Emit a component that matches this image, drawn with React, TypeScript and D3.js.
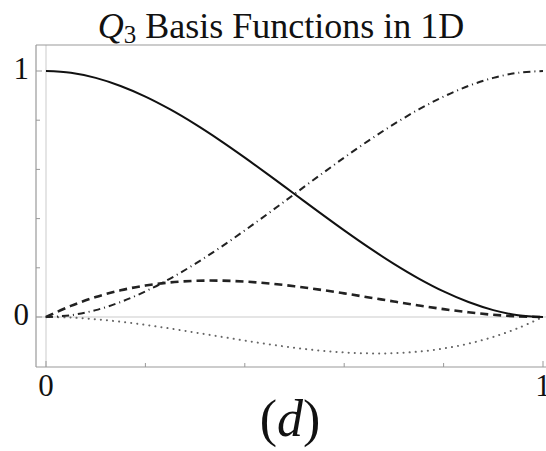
import React from "react";
import * as d3 from "d3";

const xs = [0, 0.05, 0.1, 0.15, 0.2, 0.25, 0.3, 0.35, 0.4, 0.45, 0.5, 0.55, 0.6, 0.65, 0.7, 0.75, 0.8, 0.85, 0.9, 0.95, 1];
const phi1 = [1, 0.99275, 0.972, 0.93925, 0.896, 0.84375, 0.784, 0.71825, 0.648, 0.57475, 0.5, 0.42525, 0.352, 0.28175, 0.216, 0.15625, 0.104, 0.06075, 0.028, 0.00725, 0];
const phi2 = [0, 0.045125, 0.081, 0.108375, 0.128, 0.140625, 0.147, 0.147875, 0.144, 0.136125, 0.125, 0.111375, 0.096, 0.079625, 0.063, 0.046875, 0.032, 0.019125, 0.009, 0.002375, 0];
const phi3 = [0, 0.00725, 0.028, 0.06075, 0.104, 0.15625, 0.216, 0.28175, 0.352, 0.42525, 0.5, 0.57475, 0.648, 0.71825, 0.784, 0.84375, 0.896, 0.93925, 0.972, 0.99275, 1];
const phi4 = [0, -0.002375, -0.009, -0.019125, -0.032, -0.046875, -0.063, -0.079625, -0.096, -0.111375, -0.125, -0.136125, -0.144, -0.147875, -0.147, -0.140625, -0.128, -0.108375, -0.081, -0.045125, 0];
const xMajor = [0, 1];
const xMinor = [0.2, 0.4, 0.6, 0.8];
const yMajor = [0, 1];
const yMinor = [0.2, 0.4, 0.6, 0.8];

export default function App() {
  const W = 546, H = 451;
  const x = d3.scaleLinear().domain([0, 1]).range([46, 543]);
  const y = d3.scaleLinear().domain([0, 1]).range([317, 71]);
  const left = 36, top = 45, bottom = 367, right = 546;
  const line = (vals: number[]) =>
    d3.line<number>().x((_, i) => x(xs[i])).y((v) => y(v)).curve(d3.curveCatmullRom)(vals) || "";
  const serif = "'Liberation Serif', 'Times New Roman', serif";
  return (
    <svg width={W} height={H} style={{ position: "absolute", left: 0, top: 0 }}>
      <rect width={W} height={H} fill="#fff" />
      {/* grid lines at zero */}
      <line x1={x(0)} x2={x(0)} y1={top} y2={bottom} stroke="#ddd" strokeWidth={1.5} />
      <line x1={left} x2={right} y1={y(0)} y2={y(0)} stroke="#ddd" strokeWidth={1.5} />
      {/* frame */}
      <line x1={left} x2={right} y1={top} y2={top} stroke="#999" strokeWidth={1.2} />
      <line x1={left} x2={left} y1={top} y2={bottom} stroke="#999" strokeWidth={1.2} />
      <line x1={left} x2={right} y1={bottom} y2={bottom} stroke="#999" strokeWidth={1.2} />
      {/* ticks */}
      {xMajor.map((t) => (
        <line key={"xM" + t} x1={x(t)} x2={x(t)} y1={bottom} y2={bottom - 6} stroke="#999" />
      ))}
      {xMinor.map((t) => (
        <line key={"xm" + t} x1={x(t)} x2={x(t)} y1={bottom} y2={bottom - 4} stroke="#999" />
      ))}
      {yMajor.map((t) => (
        <line key={"yM" + t} x1={left} x2={left + 6} y1={y(t)} y2={y(t)} stroke="#999" />
      ))}
      {yMinor.map((t) => (
        <line key={"ym" + t} x1={left} x2={left + 4} y1={y(t)} y2={y(t)} stroke="#999" />
      ))}
      {/* tick labels */}
      {xMajor.map((t) => (
        <text key={"xl" + t} x={x(t)} y={396} textAnchor="middle" fontFamily={serif} fontSize={31} fill="#111">
          {t}
        </text>
      ))}
      {yMajor.map((t) => (
        <text key={"yl" + t} x={29} y={y(t) + 8} textAnchor="end" fontFamily={serif} fontSize={31} fill="#111">
          {t}
        </text>
      ))}
      {/* curves */}
      <path d={line(phi4)} fill="none" stroke="#666" strokeWidth={2} strokeDasharray="0.1 6" strokeLinecap="round" />
      <path d={line(phi3)} fill="none" stroke="#222" strokeWidth={2} strokeDasharray="7 4 1 4" />
      <path d={line(phi2)} fill="none" stroke="#222" strokeWidth={2.6} strokeDasharray="8 5" />
      <path d={line(phi1)} fill="none" stroke="#111" strokeWidth={2} />
      {/* title */}
      <text x={281} y={38} textAnchor="middle" fontFamily={serif} fontSize={36} fill="#111">
        <tspan fontStyle="italic">Q</tspan>
        <tspan fontSize={25} dy={5}>3</tspan>
        <tspan dy={-5}> Basis Functions in 1D</tspan>
      </text>
      {/* axis label */}
      <text x={290} y={436} textAnchor="middle" fontFamily={serif} fontSize={52} fill="#111">
        (<tspan fontStyle="italic">d</tspan>)
      </text>
    </svg>
  );
}
